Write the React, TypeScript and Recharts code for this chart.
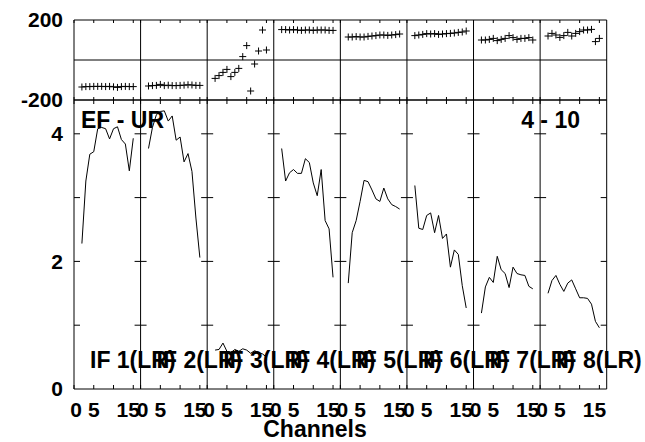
import { ComposedChart, Line, XAxis, YAxis, ReferenceLine } from "recharts";

// channel numbers shared by every IF
const channels = [2, 3, 4, 5, 6, 7, 8, 9, 10, 11, 12, 13, 14, 15];

const ifLabels = ["IF 1(LR)", "IF 2(LR)", "IF 3(LR)", "IF 4(LR)", "IF 5(LR)", "IF 6(LR)", "IF 7(LR)", "IF 8(LR)"];

// amplitude per IF
const amp1 = [2.28, 3.26, 3.68, 3.72, 4.08, 4.1, 4.08, 3.92, 4.08, 4.11, 3.91, 3.84, 3.42, 3.93];
const amp2 = [3.77, 4.1, 4.3, 4.35, 4.36, 4.2, 4.28, 3.9, 3.95, 3.56, 3.69, 3.41, 2.68, 2.06];
const amp3 = [0.61, 0.62, 0.72, 0.59, 0.57, 0.62, 0.59, 0.63, 0.61, 0.56, 0.6, 0.57, 0.55, 0.5];
const amp4 = [3.77, 3.26, 3.39, 3.44, 3.38, 3.38, 3.61, 3.55, 3.23, 3.03, 3.44, 2.64, 2.51, 1.75];
const amp5 = [1.66, 2.45, 2.64, 2.94, 3.27, 3.25, 3.12, 2.98, 2.94, 3.15, 2.98, 2.89, 2.86, 2.82];
const amp6 = [3.19, 2.52, 2.5, 2.72, 2.76, 2.45, 2.72, 2.36, 2.43, 1.91, 2.18, 2.11, 1.62, 1.27];
const amp7 = [1.19, 1.6, 1.75, 1.67, 2.08, 1.87, 1.81, 1.59, 1.91, 1.81, 1.79, 1.78, 1.61, 1.57];
const amp8 = [1.5, 1.7, 1.78, 1.64, 1.53, 1.66, 1.71, 1.57, 1.43, 1.43, 1.42, 1.33, 1.06, 0.96];

// phase per IF (degrees)
const phase1 = [-135, -133, -133, -132, -132, -132, -133, -132, -134, -137, -133, -132, -133, -133];
const phase2 = [-130, -128, -127, -122, -128, -126, -128, -128, -127, -126, -124, -125, -127, -127];
const phase3 = [-92, -78, -62, -47, -83, -62, -42, 17, 72, -155, -20, 45, 150, 50];
const phase4 = [152, 152, 150, 152, 150, 148, 150, 150, 148, 150, 150, 150, 148, 148];
const phase5 = [115, 115, 117, 115, 115, 118, 120, 122, 125, 125, 123, 125, 127, 130];
const phase6 = [122, 125, 128, 132, 130, 132, 128, 130, 132, 133, 135, 138, 140, 145];
const phase7 = [100, 100, 103, 108, 97, 103, 108, 122, 112, 103, 108, 108, 112, 100];
const phase8 = [120, 133, 125, 113, 122, 138, 120, 133, 142, 150, 150, 153, 92, 108];

const ampTicks = [0, 2, 4];
const ampMinorTicks = [1, 2, 3, 4];
const phaseTicks = [-200, 200];
const channelTicks = [0, 5, 10, 15];

const amps = [amp1, amp2, amp3, amp4, amp5, amp6, amp7, amp8];
const phases = [phase1, phase2, phase3, phase4, phase5, phase6, phase7, phase8];

// each panel spans D channels on the shared x axis
const D = 16.85;
const N = 8;
const W = 645;
const LEFT = 74;
const RIGHT = 38.3;
const PANEL_PX = (W - LEFT - RIGHT) / N;
const AMP_MAX = 4.53;
const FONT = "'Liberation Sans', Arial, sans-serif";

const xTicks = Array.from({ length: N }, (_, i) => channelTicks.map((t) => i * D + t)).flat();
const edges = Array.from({ length: N + 1 }, (_, i) => i * D);
const halfTick = 6 / (PANEL_PX / D);
const halfXTick = 4 / (289 / AMP_MAX);

const series = (vals: number[], i: number) =>
  channels.map((c, j) => ({ x: i * D + c, y: vals[j] }));

const XTick = ({ x, y, payload }: any) => {
  const v = payload.value;
  const local = Math.round(v - Math.floor(v / D + 1e-6) * D);
  const label = local === 10 ? "" : String(local);
  const dx = local === 0 ? 2 : local === 15 ? -5 : 0;
  return (
    <text x={x + dx} y={y} dy="0.71em" textAnchor="middle" fontSize={21} fontWeight="bold" fill="#000">
      {label}
    </text>
  );
};

const Cross = (props: any) => {
  const { cx, cy, index } = props;
  if (cx == null || cy == null) return <g key={`c${index}`} />;
  return (
    <path
      key={`c${index}`}
      d={`M${cx - 3.5},${cy}H${cx + 3.5}M${cx},${cy - 3.5}V${cy + 3.5}`}
      stroke="#000"
      strokeWidth={1}
      fill="none"
    />
  );
};

const yTickStyle = { fontSize: 21, fontWeight: "bold", fill: "#000" };

export default function App() {
  return (
    <div style={{ position: "absolute", left: 0, top: 0, width: W, height: 442, fontFamily: FONT, background: "#fff" }}>
      <div style={{ position: "absolute", left: 0, top: 0 }}>
        <ComposedChart width={W} height={442} margin={{ top: 100, right: RIGHT, bottom: 0, left: 0 }}>
          <XAxis
            type="number"
            dataKey="x"
            domain={[0, N * D]}
            ticks={xTicks}
            interval={0}
            height={53}
            tickLine={false}
            axisLine={false}
            tickSize={0}
            tickMargin={13}
            tick={<XTick />}
          />
          <YAxis
            type="number"
            domain={[0, AMP_MAX]}
            ticks={ampTicks}
            interval={0}
            width={LEFT}
            tickLine={false}
            axisLine={false}
            tickSize={0}
            tickMargin={11}
            tick={yTickStyle}
          />
          {/* panel frames */}
          {edges.map((d) => (
            <ReferenceLine key={`d${d}`} x={d} stroke="#000" strokeWidth={1} />
          ))}
          <ReferenceLine y={0} stroke="#000" strokeWidth={1} />
          <ReferenceLine y={AMP_MAX} stroke="#000" strokeWidth={1} />
          {/* inward ticks on the panel edges */}
          {edges.map((d) =>
            ampMinorTicks.map((v) => (
              <ReferenceLine
                key={`t${d}-${v}`}
                segment={[{ x: Math.max(0, d - halfTick), y: v }, { x: Math.min(N * D, d + halfTick), y: v }]}
                stroke="#000"
                strokeWidth={1}
              />
            ))
          )}
          {xTicks.map((t) => (
            <ReferenceLine key={`xb${t}`} segment={[{ x: t, y: 0 }, { x: t, y: halfXTick }]} stroke="#000" strokeWidth={1} />
          ))}
          {xTicks.map((t) => (
            <ReferenceLine
              key={`xt${t}`}
              segment={[{ x: t, y: AMP_MAX - halfXTick }, { x: t, y: AMP_MAX }]}
              stroke="#000"
              strokeWidth={1}
            />
          ))}
          {amps.map((vals, i) => (
            <Line
              key={`a${i}`}
              data={series(vals, i)}
              dataKey="y"
              stroke="#000"
              strokeWidth={1}
              dot={false}
              activeDot={false}
              isAnimationActive={false}
            />
          ))}
        </ComposedChart>
      </div>

      <div style={{ position: "absolute", left: 0, top: 0 }}>
        <ComposedChart width={W} height={112} margin={{ top: 20, right: RIGHT, bottom: 12, left: 0 }}>
          <XAxis type="number" dataKey="x" domain={[0, N * D]} hide />
          <YAxis
            type="number"
            domain={[-200, 200]}
            ticks={phaseTicks}
            interval={0}
            width={LEFT}
            tickLine={false}
            axisLine={false}
            tickSize={0}
            tickMargin={11}
            tick={yTickStyle}
          />
          {edges.map((d) => (
            <ReferenceLine key={`pd${d}`} x={d} stroke="#000" strokeWidth={1} />
          ))}
          <ReferenceLine y={-200} stroke="#000" strokeWidth={1} />
          <ReferenceLine y={0} stroke="#000" strokeWidth={1} />
          <ReferenceLine y={200} stroke="#000" strokeWidth={1} />
          {xTicks.map((t) => (
            <ReferenceLine key={`pb${t}`} segment={[{ x: t, y: -200 }, { x: t, y: -185 }]} stroke="#000" strokeWidth={1} />
          ))}
          {xTicks.map((t) => (
            <ReferenceLine key={`pt${t}`} segment={[{ x: t, y: 185 }, { x: t, y: 200 }]} stroke="#000" strokeWidth={1} />
          ))}
          {phases.map((vals, i) => (
            <Line
              key={`p${i}`}
              data={series(vals, i)}
              dataKey="y"
              stroke="none"
              dot={Cross}
              activeDot={false}
              isAnimationActive={false}
            />
          ))}
        </ComposedChart>
      </div>

      <svg
        width={W}
        height={442}
        style={{ position: "absolute", left: 0, top: 0, pointerEvents: "none" }}
        fontFamily={FONT}
        fontWeight="bold"
        fill="#000"
      >
        <text x={81} y={128} fontSize={23}>EF - UR</text>
        <text x={580} y={128} fontSize={23} textAnchor="end">4 - 10</text>
        {ifLabels.map((t, i) => (
          <text key={t} x={LEFT + i * PANEL_PX + 16} y={368} fontSize={23}>
            {t}
          </text>
        ))}
        <text x={315} y={437} fontSize={23} textAnchor="middle">Channels</text>
      </svg>
    </div>
  );
}
